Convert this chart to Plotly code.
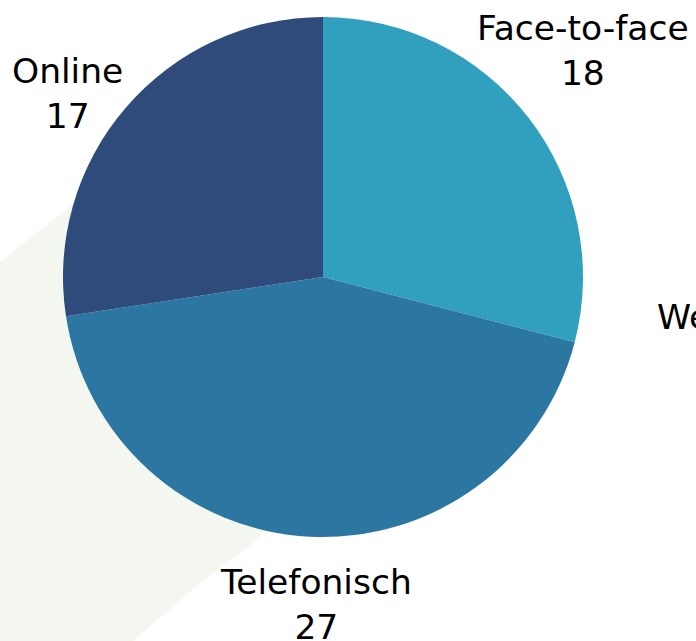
import plotly.graph_objects as go

labels = ["Face-to-face", "Weet niet", "Telefonisch", "Online"]
values = [18, 0, 27, 17]
colors = ["#31a0bf", "#2c8fb0", "#2c77a2", "#2e4b7b"]

# label block positions in pixels (center x / anchor, center y)
label_px = [(583, 50, "center"), (655, 339, "left"), (316, 604, "center"), (67, 94, "center")]

W, H = 696, 641

def px(x):
    return x / W

def py(y):
    return 1 - y / H

fig = go.Figure()
fig.add_trace(go.Pie(
    labels=labels,
    values=values,
    sort=False,
    direction="clockwise",
    rotation=0,
    marker=dict(colors=colors, line=dict(width=0)),
    textinfo="none",
    hoverinfo="label+value",
    showlegend=False,
    domain=dict(x=[px(63), px(583)], y=[py(537), py(17)]),
))

annotations = []
for lab, val, (x, y, anc) in zip(labels, values, label_px):
    annotations.append(dict(
        x=px(x), y=py(y), xref="paper", yref="paper",
        xanchor=anc, yanchor="middle",
        text=f"{lab}<br>{val}", showarrow=False, align="center",
        font=dict(family="DejaVu Sans", size=34.5, color="#000000"),
    ))

band = [(0, 262), (110, 175), (300, 480), (257, 540), (200, 583), (133, 641), (0, 641)]
path = "M " + " L ".join(f"{px(x)},{py(y)}" for x, y in band) + " Z"

fig.update_layout(
    width=W, height=H,
    margin=dict(l=0, r=0, t=0, b=0),
    paper_bgcolor="white", plot_bgcolor="white",
    annotations=annotations,
    shapes=[dict(type="path", path=path, xref="paper", yref="paper",
                 fillcolor="#f3f7f0", line=dict(width=0), layer="below")],
)

fig.write_html("out.html", config={"displayModeBar": False},
               post_script="document.body.style.margin='0';document.body.style.overflow='hidden';")
